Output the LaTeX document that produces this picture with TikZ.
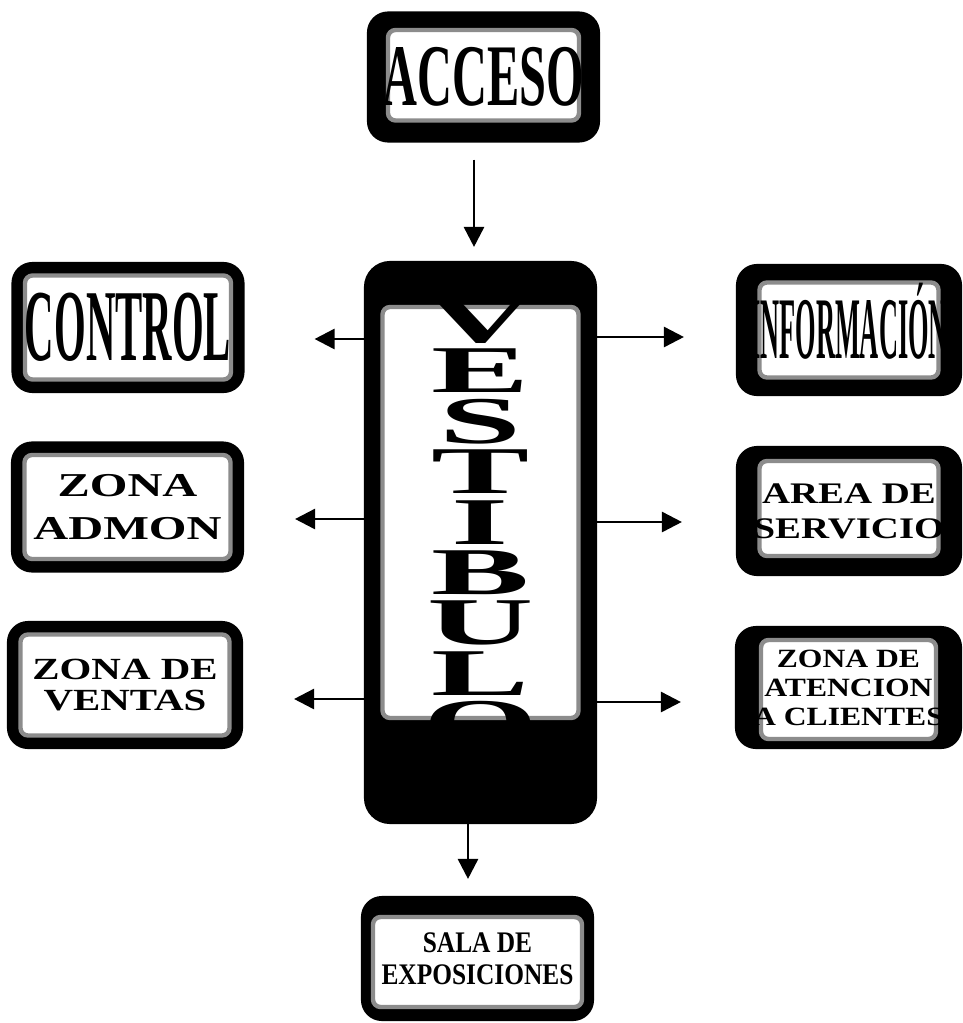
\documentclass[tikz,border=0pt]{standalone}
\usepackage{fontspec}
\setmainfont{Liberation Serif}
\usepackage{graphicx}
\usetikzlibrary{arrows.meta,positioning,calc}

\newcommand{\ancho}[2]{\scalebox{#1}[1]{#2}}
\newcommand{\letra}[1]{\scalebox{3.35}[1.52]{#1}}

\begin{document}
\begin{tikzpicture}[
    borde x/.store in=\bordex, borde arriba/.store in=\bordearr, borde abajo/.store in=\bordeab,
    borde x=0.25cm, borde arriba=0.25cm, borde abajo=0.25cm,
    zona/.style={draw=black, line width=1.2pt, fill=black, rounded corners=0.4cm, minimum width=4.62cm, minimum height=2.58cm, inner sep=0pt, align=center, font=\bfseries,
        path picture={\fill[white, draw=black!45, line width=2.5pt, rounded corners=0.15cm]
            ([shift={(\bordex,-\bordearr)}]path picture bounding box.north west) rectangle
            ([shift={(-\bordex,\bordeab)}]path picture bounding box.south east);}},
    flecha/.style={-{Triangle[length=0.4cm, width=0.4cm]}, line width=1.5pt}
]
\useasboundingbox (0,0) rectangle (19.24,-20.46);

\node[zona, borde x=0.4cm, borde arriba=0.35cm, borde abajo=0.42cm, font=\bfseries\fontsize{50}{50}\selectfont] (acceso) at (9.67,-1.54) {\ancho{0.55}{ACCESO}};
\node[zona, minimum height=11.22cm, rounded corners=0.5cm, borde x=0.35cm, borde arriba=0.9cm, borde abajo=2.1cm] (vestibulo) at (9.61,-10.85) {};
\node[font=\bfseries\fontsize{25}{28.7}\selectfont, align=center, inner sep=0pt] (rotulo) at ([yshift=0.4cm]vestibulo.center)
    {\letra{V}\\\letra{E}\\\letra{S}\\\letra{T}\\\letra{I}\\\letra{B}\\\letra{U}\\\letra{L}\\\letra{O}};
\node[zona, minimum height=2.46cm, borde x=0.22cm, borde arriba=0.4cm, borde abajo=0.26cm, font=\bfseries\fontsize{17}{18}\selectfont] (sala) at (9.55,-19.17) {\ancho{0.85}{SALA DE}\\\ancho{0.85}{EXPOSICIONES}};

% lado izquierdo
\node[zona, font=\bfseries\fontsize{58}{58}\selectfont] (control) at (2.56,-6.55) {\ancho{0.4}{CONTROL}};
\node[zona, font=\bfseries\fontsize{19}{24.4}\selectfont] (admon) at (2.55,-10.14) {\ancho{1.45}{ZONA}\\\ancho{1.45}{ADMON}};
\node[zona, minimum width=4.68cm, minimum height=2.52cm, font=\bfseries\fontsize{17.5}{18}\selectfont] (ventas) at (2.50,-13.70) {\ancho{1.33}{ZONA DE}\\\ancho{1.33}{VENTAS}};

% lado derecho
\node[zona, minimum width=4.48cm, minimum height=2.6cm, borde x=0.45cm, borde arriba=0.35cm, borde abajo=0.35cm, font=\bfseries\fontsize{50}{50}\selectfont] (info) at (16.98,-6.60) {\ancho{0.3}{INFORMACI\smash{Ó}N}};
\node[zona, minimum width=4.48cm, minimum height=2.56cm, borde x=0.45cm, borde arriba=0.28cm, borde abajo=0.38cm, font=\bfseries\fontsize{17}{20}\selectfont] (area) at (16.98,-10.22) {\ancho{1.3}{AREA DE}\\\ancho{1.3}{SERVICIO}};
\node[zona, minimum width=4.5cm, minimum height=2.42cm, borde x=0.5cm, borde arriba=0.26cm, borde abajo=0.18cm, font=\bfseries\fontsize{15}{16.5}\selectfont] (atencion) at (16.97,-13.75) {\ancho{1.2}{ZONA DE}\\\ancho{1.2}{ATENCION}\\\ancho{1.2}{A CLIENTES}};

\draw[flecha, shorten <=0.34cm, shorten >=0.28cm] ([xshift=-0.19cm]acceso.south) -- ([xshift=-0.19cm]acceso.south |- vestibulo.north);
\draw[flecha, shorten >=0.34cm] ([xshift=-0.25cm]vestibulo.south) -- ([xshift=-0.25cm]vestibulo.south |- sala.north);

\draw[flecha, shorten >=1.4cm] ($(control.east -| vestibulo.west)+(0,-0.23)$) -- ($(control.east)+(0,-0.23)$);
\draw[flecha, shorten >=1.02cm] ($(admon.east -| vestibulo.west)+(0,-0.24)$) -- ($(admon.east)+(0,-0.24)$);
\draw[flecha, shorten >=1.02cm] ($(ventas.east -| vestibulo.west)+(0,-0.28)$) -- ($(ventas.east)+(0,-0.28)$);

\draw[flecha, shorten >=1.04cm] ($(info.west -| vestibulo.east)+(0,-0.14)$) -- ($(info.west)+(0,-0.14)$);
\draw[flecha, shorten >=1.08cm] ($(area.west -| vestibulo.east)+(0,-0.22)$) -- ($(area.west)+(0,-0.22)$);
\draw[flecha, shorten >=1.08cm] ($(atencion.west -| vestibulo.east)+(0,-0.29)$) -- ($(atencion.west)+(0,-0.29)$);
\end{tikzpicture}
\end{document}
